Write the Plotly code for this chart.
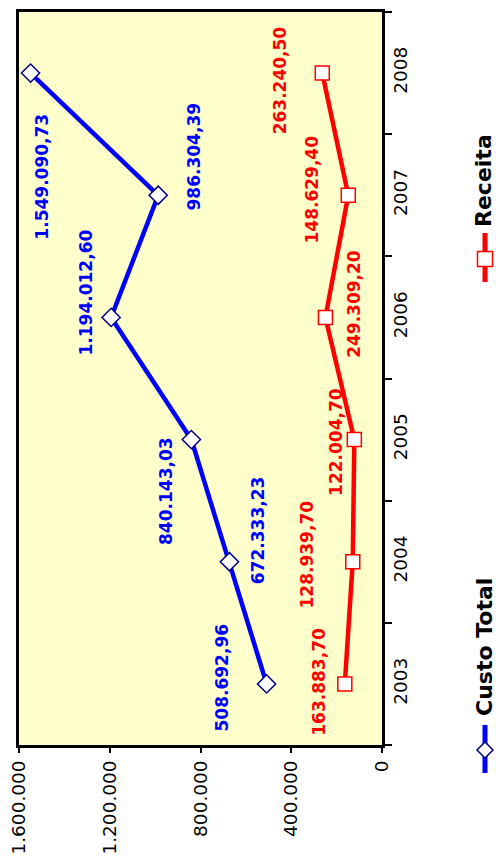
import plotly.graph_objects as go

# ---- data ----
years = ["2003", "2004", "2005", "2006", "2007", "2008"]
custo_total = [508692.96, 672333.23, 840143.03, 1194012.60, 986304.39, 1549090.73]
receita = [163883.70, 128939.70, 122004.70, 249309.20, 148629.40, 263240.50]
value_ticks = [0, 400000, 800000, 1200000, 1600000]

# ---- label placement (pixel offsets from the point: dx right, dy down) ----
custo_off = [(-45, -6), (28, -32), (-26, 51), (-25, -25), (36, -39), (12, 104)]
receita_off = [(-26, -2), (-46, -7), (-19, 2), (29, -14), (-36, -6), (-42, 7)]

W, H = 496, 861
L, R, T, B = 19, 114, 12, 116
FONT = "DejaVu Sans"


def br(v):
    s = f"{v:,.2f}"
    return s.replace(",", "X").replace(".", ",").replace("X", ".")


def px(x):
    return (x - L) / (W - L - R)


def py(y):
    return (H - B - y) / (H - T - B)


fig = go.Figure()
fig.add_trace(go.Scatter(
    x=custo_total, y=years, mode="lines+markers", name="Custo Total",
    line=dict(color="#0000FF", width=4.5),
    marker=dict(symbol="diamond", size=14, color="white",
                line=dict(color="#000080", width=1.5)),
    cliponaxis=False, showlegend=False))
fig.add_trace(go.Scatter(
    x=receita, y=years, mode="lines+markers", name="Receita",
    line=dict(color="#FF0000", width=4.5),
    marker=dict(symbol="square", size=14, color="white",
                line=dict(color="#FF0000", width=1.5)),
    cliponaxis=False, showlegend=False))

ann = []
for vals, offs, col in ((custo_total, custo_off, "#0000FF"),
                        (receita, receita_off, "#FF0000")):
    for i, (v, (dx, dy)) in enumerate(zip(vals, offs)):
        ann.append(dict(x=v, y=i, xref="x", yref="y",
                        text="<b>" + br(v) + "</b>",
                        showarrow=False, textangle=-90,
                        xanchor="center", yanchor="middle",
                        xshift=dx, yshift=-dy,
                        font=dict(family=FONT, size=17, color=col)))

# legend texts
ann.append(dict(x=px(484), y=py(181), xref="paper", yref="paper",
                text="<b>Receita</b>", showarrow=False, textangle=-90,
                xanchor="center", yanchor="middle", borderpad=0,
                font=dict(family=FONT, size=22, color="black")))
ann.append(dict(x=px(484), y=py(647), xref="paper", yref="paper",
                text="<b>Custo Total</b>", showarrow=False, textangle=-90,
                xanchor="center", yanchor="middle", borderpad=0,
                font=dict(family=FONT, size=22, color="black")))

shapes = []
# legend: Receita
shapes.append(dict(type="line", xref="paper", yref="paper",
                   x0=px(485), x1=px(485), y0=py(233), y1=py(282),
                   line=dict(color="#FF0000", width=5)))
shapes.append(dict(type="rect", xref="paper", yref="paper",
                   x0=px(477.5), x1=px(492.5), y0=py(251.5), y1=py(266.5),
                   fillcolor="white", line=dict(color="#FF0000", width=1.5)))
# legend: Custo Total
shapes.append(dict(type="line", xref="paper", yref="paper",
                   x0=px(485), x1=px(485), y0=py(725), y1=py(773),
                   line=dict(color="#0000FF", width=5)))
cx, cy, r = 485, 750, 8
path = (f"M {px(cx)},{py(cy - r)} L {px(cx + r)},{py(cy)} "
        f"L {px(cx)},{py(cy + r)} L {px(cx - r)},{py(cy)} Z")
shapes.append(dict(type="path", xref="paper", yref="paper", path=path,
                   fillcolor="white", line=dict(color="#000080", width=1.5)))

fig.update_layout(
    width=W, height=H,
    margin=dict(l=L, r=R, t=T, b=B, pad=0),
    paper_bgcolor="white", plot_bgcolor="#FFFFCC",
    separators=",.",
    font=dict(family=FONT, color="black"),
    annotations=ann, shapes=shapes,
    xaxis=dict(range=[1600000, 0], tickmode="array", tickvals=value_ticks,
               tickformat=",d", tickangle=-90, ticks="outside", ticklen=5,
               tickwidth=2, tickcolor="black", showgrid=False, zeroline=False,
               showline=True, linewidth=3, linecolor="black", mirror=True,
               tickfont=dict(family=FONT, size=18.5, color="black"),
               automargin=False),
    yaxis=dict(type="category", categoryorder="array", categoryarray=years,
               range=[-0.5, 5.5], side="right", tickson="boundaries",
               ticks="outside", ticklen=7, tickwidth=2, tickcolor="black",
               tickangle=-90, showgrid=False, zeroline=False,
               showline=True, linewidth=3, linecolor="black", mirror=True,
               tickfont=dict(family=FONT, size=18.5, color="black"),
               automargin=False),
)

fig.write_html("out.html",
               config={"displayModeBar": False},
               post_script="document.body.style.margin='0px';"
                           "document.body.style.overflow='hidden';")
